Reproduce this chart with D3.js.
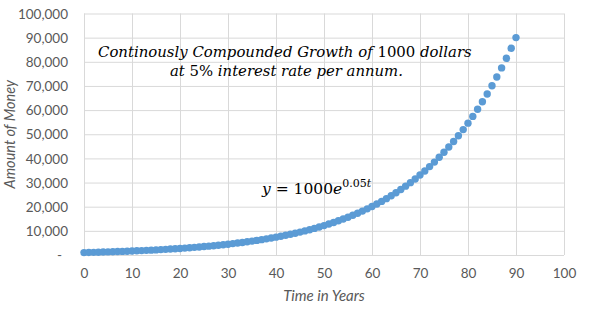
<!DOCTYPE html>
<html><head><meta charset="utf-8">
<script src="https://cdn.jsdelivr.net/npm/d3@7"></script>
<style>
body{margin:0;background:#fff;}
svg{display:block;}
</style></head>
<body>
<svg id="chart" width="592" height="322"></svg>
<script>
const years = d3.range(0, 91);
const money = [1000,1051,1105,1162,1221,1284,1350,1419,1492,1568,
1649,1733,1822,1916,2014,2117,2226,2340,2460,2586,
2718,2858,3004,3158,3320,3490,3669,3857,4055,4263,
4482,4711,4953,5207,5474,5755,6050,6360,6686,7029,
7389,7768,8166,8585,9025,9488,9974,10486,11023,11588,
12182,12807,13464,14154,14880,15643,16445,17288,18174,19106,
20086,21115,22198,23336,24533,25790,27113,28503,29964,31500,
33115,34813,36598,38475,40447,42521,44701,46993,49402,51935,
54598,57398,60340,63434,66686,70105,73700,77479,81451,85627,
90017];
const xTicks = [0,10,20,30,40,50,60,70,80,90,100];
const yTicks = [0,10000,20000,30000,40000,50000,60000,70000,80000,90000,100000];
const xTitle = "Time in Years";
const yTitle = "Amount of Money";

const svg = d3.select("#chart");
const L = 84, R = 564, T = 13.5, B = 255;
const x = d3.scaleLinear().domain([0,100]).range([L,R]);
const y = d3.scaleLinear().domain([0,100000]).range([B,T]);
const grey = "#595959";
const fnt = "Lato, 'Open Sans', sans-serif";

// y grid + labels
const gy = svg.append("g").attr("transform",`translate(${L},0)`)
  .call(d3.axisLeft(y).tickValues(yTicks).tickSize(-(R-L)).tickPadding(16)
    .tickFormat(d => d===0 ? "-" : d3.format(",")(d)));
gy.select(".domain").remove();
gy.selectAll("line").attr("stroke","#d9d9d9").attr("stroke-width",1);
gy.selectAll("text").attr("fill",grey).style("font-family",fnt).style("font-size","13.5px")
  .attr("dy","0.35em");
gy.selectAll(".tick").filter(d=>d===0).select("text").attr("x",-22);

// x grid + labels
const gx = svg.append("g").attr("transform",`translate(0,${B})`)
  .call(d3.axisBottom(x).tickValues(xTicks).tickSize(-(B-T)).tickPadding(13));
gx.select(".domain").remove();
gx.selectAll("line").attr("stroke","#d9d9d9").attr("stroke-width",1);
gx.selectAll("text").attr("fill",grey).style("font-family",fnt).style("font-size","13.5px");

// axis titles
svg.append("text").attr("x",(L+R)/2).attr("y",301).attr("text-anchor","middle")
  .attr("fill",grey).style("font-family",fnt).style("font-size","15px").style("font-style","italic")
  .text(xTitle);
svg.append("text").attr("transform",`translate(15,${(T+B)/2}) rotate(-90)`).attr("text-anchor","middle")
  .attr("fill",grey).style("font-family",fnt).style("font-size","14.5px").style("font-style","italic")
  .text(yTitle);

// points
svg.append("g").selectAll("circle").data(years).join("circle")
  .attr("cx", d => x(d)).attr("cy", (d,i) => y(money[i])).attr("r",3.7)
  .attr("fill","#5b9bd5");

// annotation
const serif = "'DejaVu Serif', 'Liberation Serif', serif";
function fit(t, target, base) {
  const w = t.node().getComputedTextLength();
  if (w > 0) t.style("font-size", (base * target / w).toFixed(2) + "px");
}
const ann = svg.append("g").style("font-family",serif).attr("fill","#000");
const l1 = ann.append("text").attr("x",98).attr("y",57).style("font-size","17px");
l1.append("tspan").style("font-style","italic").text("Continously Compounded Growth of ");
l1.append("tspan").text("1000 ");
l1.append("tspan").style("font-style","italic").text("dollars");
fit(l1, 374, 17);
const l2 = ann.append("text").attr("x",170).attr("y",76).style("font-size","17px");
l2.append("tspan").style("font-style","italic").text("at ");
l2.append("tspan").text("5% ");
l2.append("tspan").style("font-style","italic").text("interest rate per annum.");
fit(l2, 233, 17);

// equation
const eq = svg.append("text").attr("x",262).attr("y",194).style("font-family",serif).style("font-size","15.5px");
eq.append("tspan").style("font-style","italic").text("y");
eq.append("tspan").text(" = 1000");
eq.append("tspan").style("font-style","italic").text("e");
eq.append("tspan").attr("dy",-7).style("font-size","11px").text("0.05");
eq.append("tspan").style("font-size","11px").style("font-style","italic").text("t");
</script>
</body></html>
